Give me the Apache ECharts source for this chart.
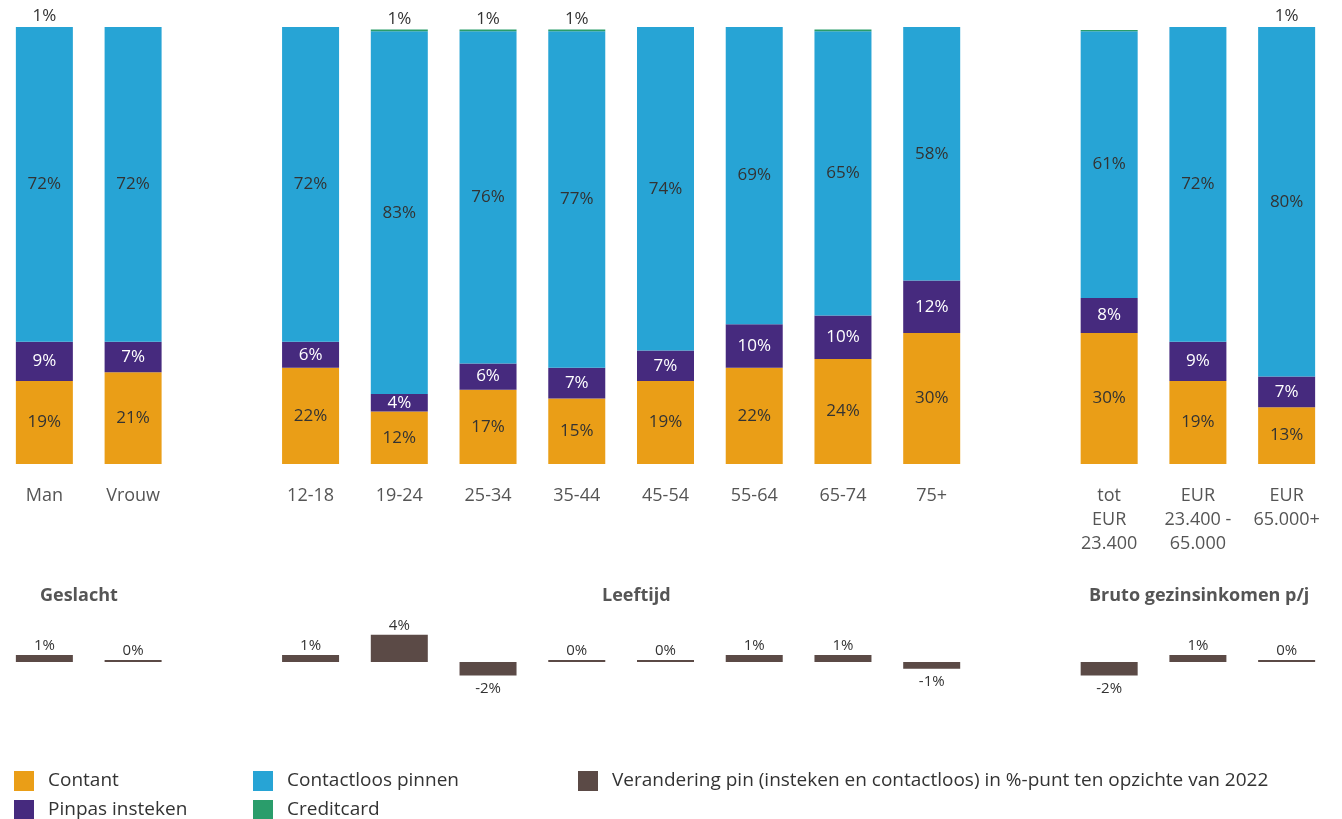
<!DOCTYPE html>
<html>
<head>
<meta charset="utf-8">
<script src="https://cdn.jsdelivr.net/npm/echarts@6/dist/echarts.min.js"></script>
<style>
  html, body { margin: 0; padding: 0; background: #fff; }
  #chart { width: 1342px; height: 819px; }
</style>
</head>
<body>
<div id="chart"></div>
<script>
// categorieen (lege plekken scheiden de groepen)
const categories = ["Man", "Vrouw", "", "12-18", "19-24", "25-34", "35-44", "45-54", "55-64", "65-74", "75+", "",
  "tot\nEUR\n23.400", "EUR\n23.400 -\n65.000", "EUR\n65.000+"];

// aandeel betaalmiddel in %
const contant = [19, 21, "-", 22, 12, 17, 15, 19, 22, 24, 30, "-", 30, 19, 13];
const pinpas = [9, 7, "-", 6, 4, 6, 7, 7, 10, 10, 12, "-", 8, 9, 7];
const contactloos = [72, 72, "-", 72, 83, 76, 77, 74, 69, 65, 58, "-", 61, 72, 80];
const creditcard = [1, 0.2, "-", 0, 0.4, 0.4, 0.4, 0.3, 0.3, 0.4, 0.4, "-", 0.3, 0, 0.5];
const creditcardLabels = ["1%", "", "", "", "1%", "1%", "1%", "", "", "", "", "", "", "", "1%"];

// verandering pin in %-punt t.o.v. 2022
const verandering = [1, 0, "-", 1, 4, -2, 0, 0, 1, 1, -1, "-", -2, 1, 0];

const FONT = "Open Sans";
const NAAM_VERANDERING = "Verandering pin (insteken en contactloos) in %-punt ten opzichte van 2022";
const kleur = {
  contant: "#EA9E17",
  pinpas: "#462A7E",
  contactloos: "#27A4D5",
  creditcard: "#2A9D6B",
  verandering: "#5B4A46",
};

const myChart = echarts.init(document.getElementById("chart"));

function stackSerie(name, data, color, labelColor) {
  return {
    name: name,
    type: "bar",
    stack: "totaal",
    xAxisIndex: 0,
    yAxisIndex: 0,
    barWidth: 57,
    data: data,
    itemStyle: { color: color },
    label: {
      show: true,
      position: "inside",
      color: labelColor,
      fontFamily: FONT,
      fontSize: 17,
      formatter: (p) => p.value + "%",
    },
  };
}

// een legenda per item, zodat ze in twee rijen staan
function legendItem(name, left, top) {
  return {
    left: left,
    top: top,
    itemWidth: 20,
    itemHeight: 20,
    icon: "rect",
    data: [name],
    textStyle: { fontSize: 19, color: "#333", fontFamily: FONT, padding: [0, 0, 0, 9] },
  };
}

myChart.setOption({
  animation: false,
  textStyle: { fontFamily: FONT },
  grid: [
    { left: -1, width: 1332, top: 27, height: 437 },
    { left: -1, width: 1332, top: 628, height: 61 },
  ],
  xAxis: [
    {
      type: "category",
      gridIndex: 0,
      data: categories,
      axisLine: { show: false },
      axisTick: { show: false },
      axisLabel: {
        interval: 0,
        margin: 20,
        color: "#555",
        fontSize: 18,
        lineHeight: 24,
        fontFamily: FONT,
      },
    },
    {
      type: "category",
      gridIndex: 1,
      data: categories,
      show: false,
    },
  ],
  yAxis: [
    { type: "value", gridIndex: 0, min: 0, max: 100, show: false },
    { type: "value", gridIndex: 1, min: -4, max: 5, show: false },
  ],
  legend: [
    legendItem("Contant", 9, 766),
    legendItem("Pinpas insteken", 9, 795),
    legendItem("Contactloos pinnen", 248, 766),
    legendItem("Creditcard", 248, 795),
    legendItem(NAAM_VERANDERING, 573, 766),
  ],
  graphic: [
    { type: "text", left: 40, top: 587, style: { text: "Geslacht", font: "bold 18px 'Open Sans'", fill: "#555" } },
    { type: "text", left: 602, top: 587, style: { text: "Leeftijd", font: "bold 18px 'Open Sans'", fill: "#555" } },
    { type: "text", left: 1089, top: 587, style: { text: "Bruto gezinsinkomen p/j", font: "bold 18px 'Open Sans'", fill: "#555" } },
  ],
  series: [
    stackSerie("Contant", contant, kleur.contant, "#333"),
    stackSerie("Pinpas insteken", pinpas, kleur.pinpas, "#fff"),
    stackSerie("Contactloos pinnen", contactloos, kleur.contactloos, "#333"),
    {
      name: "Creditcard",
      type: "bar",
      stack: "totaal",
      xAxisIndex: 0,
      yAxisIndex: 0,
      barWidth: 57,
      data: creditcard,
      itemStyle: { color: kleur.creditcard },
      label: {
        show: true,
        position: "top",
        distance: 2,
        color: "#333",
        fontFamily: FONT,
        fontSize: 17,
        formatter: (p) => creditcardLabels[p.dataIndex],
      },
    },
    {
      name: NAAM_VERANDERING,
      type: "bar",
      xAxisIndex: 1,
      yAxisIndex: 1,
      barWidth: 57,
      barMinHeight: 2,
      itemStyle: { color: kleur.verandering },
      data: verandering.map((v) => ({
        value: v,
        label: { position: v < 0 ? "bottom" : "top", distance: v < 0 ? 6 : 2 },
      })),
      label: {
        show: true,
        color: "#333",
        fontFamily: FONT,
        fontSize: 15,
        formatter: (p) => p.value + "%",
      },
    },
  ],
});
</script>
</body>
</html>
